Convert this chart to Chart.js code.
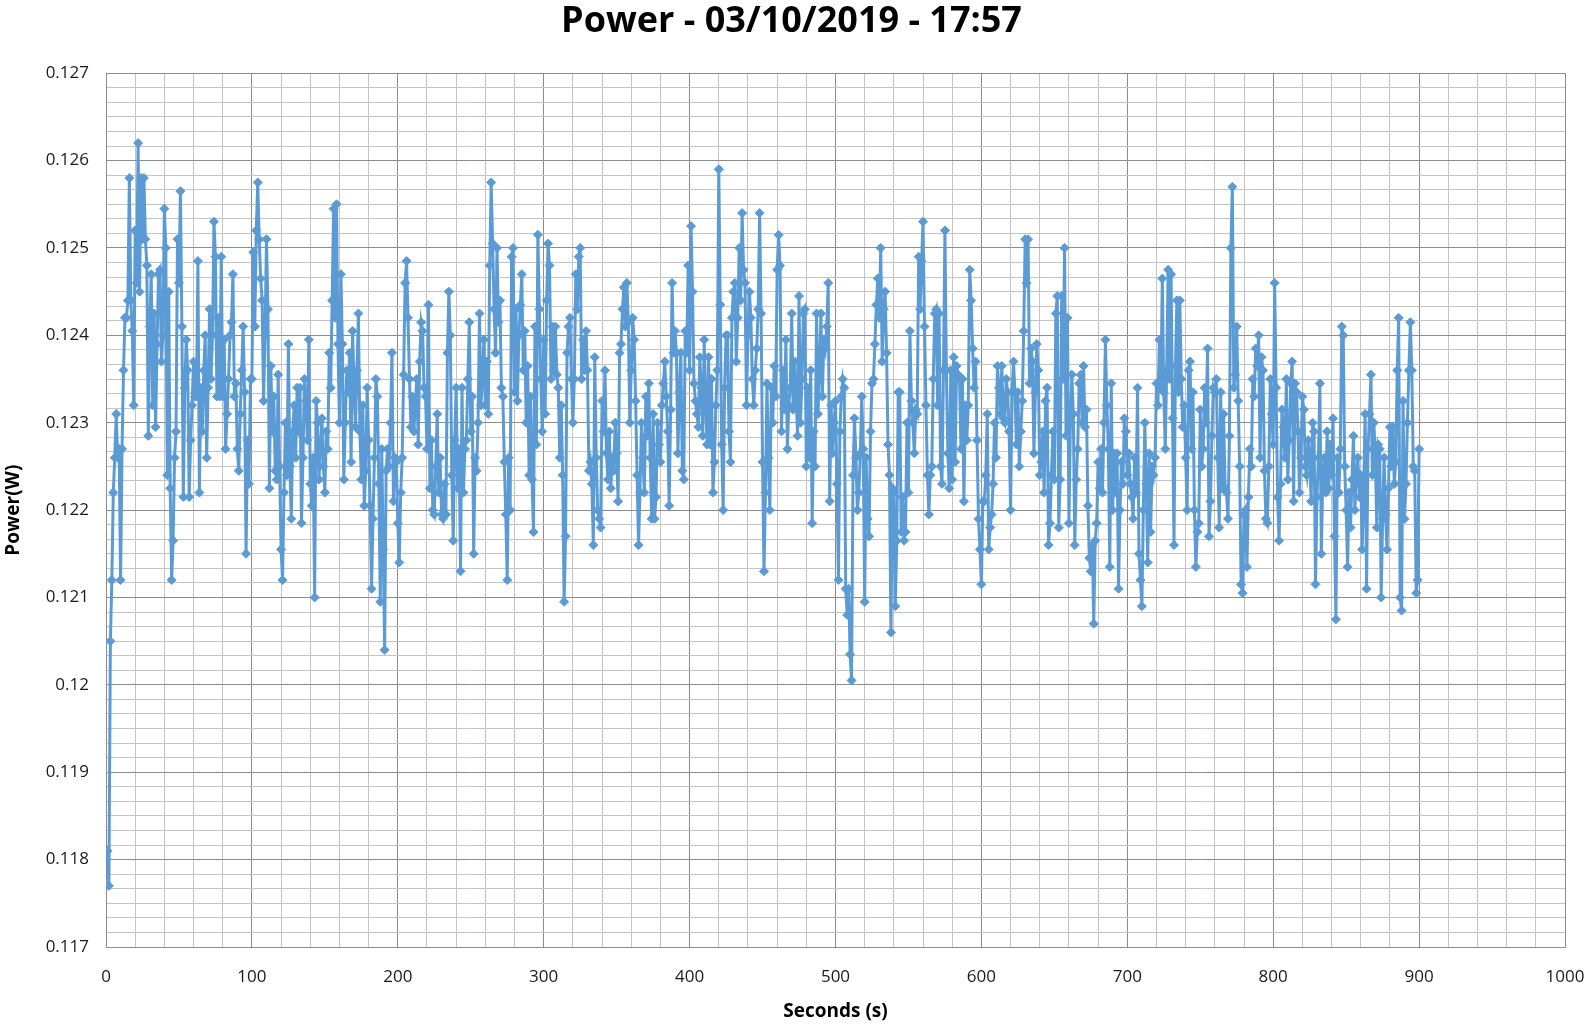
<!DOCTYPE html>
<html>
<head>
<meta charset="utf-8">
<title>Power - 03/10/2019 - 17:57</title>
<script src="https://cdn.jsdelivr.net/npm/chart.js@4.4.1/dist/chart.umd.min.js"></script>
<style>
  html, body { margin: 0; padding: 0; background: #ffffff; }
  #wrap { width: 1593px; height: 1026px; }
</style>
</head>
<body>
<div id="wrap"><canvas id="graficoPotencia"></canvas></div>
<script>
/* DADOS - potência, uma amostra por segundo (em mW) */
const chartTitle = 'Power - 03/10/2019 - 17:57';
const xTitle = 'Seconds (s)';
const yTitle = 'Power(W)';

const powerMilliwatts = [
  118.1, 117.7, 120.5, 121.2, 122.2, 122.6, 123.1, 122.6, 122.7, 121.2,
  122.7, 123.6, 124.2, 124.2, 124.4, 125.8, 124.4, 124.05, 123.2, 125.2,
  124.6, 126.2, 124.5, 125.8, 125.1, 125.8, 125.1, 124.8, 122.85, 124.1,
  124.7, 123.2, 124.25, 122.95, 123.9, 124.7, 124.75, 123.7, 124.0, 125.45,
  125.0, 122.4, 124.5, 122.25, 121.2, 121.65, 122.6, 122.9, 125.1, 124.6,
  125.65, 124.1, 122.15, 123.4, 123.95, 123.6, 122.15, 122.8, 123.2, 123.7,
  123.3, 123.3, 124.85, 122.2, 123.4, 122.9, 123.6, 124.0, 122.6, 123.4,
  124.3, 123.5, 124.0, 125.3, 124.9, 123.3, 124.2, 123.3, 124.9, 123.3,
  123.95, 122.7, 123.1, 123.5, 124.0, 124.15, 124.7, 123.3, 123.45, 122.7,
  122.45, 123.1, 123.6, 124.1, 123.35, 121.5, 122.8, 122.3, 123.5, 123.5,
  124.95, 124.1, 125.2, 125.75, 125.1, 124.65, 124.4, 123.25, 124.0, 125.1,
  124.3, 122.25, 123.65, 122.9, 123.3, 122.45, 122.35, 123.55, 122.5, 121.55,
  121.2, 122.2, 123.0, 122.4, 123.9, 122.5, 121.9, 122.9, 123.2, 122.6,
  123.4, 122.9, 123.4, 121.85, 122.6, 123.5, 123.25, 122.8, 123.95, 122.3,
  122.05, 122.6, 121.0, 123.25, 123.0, 122.35, 122.7, 123.05, 122.5, 122.2,
  122.9, 122.7, 123.8, 123.4, 124.4, 125.45, 124.2, 125.5, 123.9, 123.0,
  124.7, 123.9, 122.35, 123.0, 123.6, 123.35, 123.8, 122.55, 124.05, 123.45,
  122.95, 123.6, 124.25, 122.9, 122.35, 123.2, 122.05, 122.45, 123.4, 122.8,
  122.05, 121.1, 121.9, 122.6, 123.5, 123.3, 122.3, 120.95, 122.7, 121.55,
  120.4, 122.45, 122.7, 122.5, 123.0, 123.8, 122.1, 122.6, 122.55, 121.85,
  121.4, 122.2, 122.6, 123.55, 124.6, 124.85, 124.2, 123.5, 122.95, 123.3,
  122.9, 123.2, 123.5, 122.75, 123.7, 124.15, 124.05, 123.4, 123.3, 122.7,
  124.35, 122.25, 122.8, 122.0, 121.95, 122.5, 123.1, 122.2, 122.6, 121.95,
  121.9, 122.3, 121.95, 123.8, 124.5, 124.0, 122.4, 121.65, 122.8, 123.4,
  122.25, 122.7, 121.3, 123.4, 122.2, 122.7, 122.8, 123.5, 124.15, 122.9,
  123.3, 121.5, 122.6, 122.45, 123.0, 124.25, 123.2, 123.5, 123.95, 123.2,
  123.7, 123.1, 124.8, 125.75, 125.05, 124.3, 123.8, 125.0, 124.15, 124.4,
  123.4, 123.3, 122.55, 121.95, 121.2, 122.6, 122.0, 124.9, 125.0, 123.35,
  124.3, 123.25, 124.0, 124.35, 124.7, 123.6, 124.05, 123.0, 123.65, 122.4,
  123.3, 122.35, 121.75, 124.1, 122.75, 125.15, 124.3, 123.5, 122.9, 123.95,
  123.1, 124.4, 125.05, 124.8, 123.5, 124.1, 123.6, 124.1, 123.55, 123.4,
  122.6, 123.2, 122.4, 120.95, 121.7, 123.8, 124.1, 124.2, 123.5, 123.0,
  123.5, 124.7, 124.3, 124.9, 125.0, 123.5, 123.95, 123.6, 124.05, 123.6,
  122.45, 122.55, 122.3, 121.6, 123.75, 122.6, 122.0, 121.9, 121.8, 123.25,
  122.9, 123.6, 122.65, 122.35, 122.9, 122.25, 122.6, 122.45, 123.0, 122.65,
  122.1, 123.8, 123.9, 124.3, 124.55, 124.1, 124.6, 124.15, 123.0, 123.6,
  124.2, 123.95, 123.25, 122.4, 121.6, 122.2, 123.0, 122.6, 122.2, 123.3,
  122.85, 123.45, 122.6, 121.9, 123.1, 121.9, 122.15, 123.0, 122.75, 122.55,
  123.2, 123.45, 123.7, 123.3, 122.9, 122.05, 123.15, 124.6, 123.8, 124.05,
  123.8, 122.65, 123.35, 123.8, 122.45, 122.35, 124.05, 123.8, 124.8, 123.6,
  125.25, 124.5, 123.45, 123.25, 123.1, 122.95, 123.75, 123.4, 122.85, 123.95,
  123.2, 122.75, 123.75, 122.75, 123.5, 122.2, 122.55, 123.2, 123.6, 125.9,
  124.35, 122.75, 122.0, 123.4, 124.0, 124.0, 122.9, 122.55, 124.2, 124.5,
  124.6, 123.7, 124.2, 125.0, 124.4, 125.4, 124.75, 124.6, 123.2, 124.0,
  124.5, 124.2, 123.5, 123.2, 123.6, 123.85, 124.3, 125.4, 124.25, 122.55,
  121.3, 122.2, 123.45, 122.6, 122.0, 123.4, 123.0, 123.65, 123.3, 124.75,
  125.15, 124.8, 122.9, 123.6, 123.15, 123.95, 122.7, 123.2, 123.4, 124.25,
  123.15, 123.7, 123.3, 122.85, 124.45, 123.0, 123.5, 124.25, 124.3, 122.5,
  123.4, 122.6, 123.6, 121.85, 122.9, 122.5, 124.25, 123.1, 123.6, 124.25,
  123.3, 123.95, 123.85, 124.1, 124.6, 122.1, 123.2, 122.65, 123.0, 123.25,
  122.3, 121.2, 122.9, 123.3, 123.5, 123.4, 121.1, 120.8, 121.1, 120.35,
  120.05, 122.4, 123.05, 122.6, 122.0, 122.2, 122.65, 123.3, 122.7, 120.95,
  122.6, 121.9, 121.7, 122.9, 123.45, 123.5, 123.9, 124.35, 124.65, 124.2,
  125.0, 123.7, 124.3, 124.5, 123.8, 122.75, 122.4, 120.6, 122.25, 122.2,
  120.9, 121.65, 123.35, 123.35, 121.75, 122.15, 121.65, 121.75, 123.0, 122.2,
  124.05, 123.25, 123.0, 122.65, 123.15, 123.1, 124.9, 124.3, 124.85, 125.3,
  124.1, 123.2, 122.4, 121.95, 122.4, 122.5, 123.5, 124.25, 124.3, 123.2,
  124.25, 122.5, 122.3, 123.6, 125.2, 123.6, 122.65, 122.25, 123.6, 122.35,
  123.75, 122.55, 123.65, 123.55, 123.5, 122.7, 123.5, 122.1, 123.2, 122.8,
  123.2, 124.75, 124.4, 123.85, 123.4, 123.7, 122.8, 121.9, 121.55, 121.15,
  122.1, 122.1, 122.4, 123.1, 121.55, 121.8, 121.95, 122.3, 123.0, 122.6,
  123.65, 123.4, 123.1, 123.65, 123.05, 123.0, 123.5, 123.35, 122.9, 122.0,
  123.35, 123.7, 123.35, 122.75, 123.35, 122.5, 122.9, 123.25, 124.05, 125.1,
  124.6, 125.1, 123.45, 123.85, 123.7, 122.65, 123.35, 123.9, 123.6, 122.4,
  122.55, 122.9, 122.2, 123.25, 123.4, 121.6, 121.85, 122.4, 122.9, 122.35,
  124.25, 124.45, 121.8, 122.35, 124.45, 123.5, 125.0, 122.85, 124.2, 121.85,
  123.0, 123.55, 123.1, 121.6, 122.35, 122.7, 123.45, 123.55, 123.0, 123.65,
  122.95, 123.15, 122.05, 121.45, 121.3, 121.6, 120.7, 121.65, 121.85, 122.55,
  122.25, 122.7, 122.2, 123.0, 123.95, 123.2, 122.7, 121.35, 123.45, 122.0,
  122.65, 122.2, 122.65, 121.1, 122.0, 122.55, 122.3, 123.05, 122.9, 122.4,
  122.65, 122.3, 122.15, 121.9, 122.6, 122.2, 123.4, 121.5, 121.2, 120.9,
  122.0, 123.0, 122.3, 121.4, 122.65, 121.75, 122.5, 122.4, 122.6, 123.45,
  123.2, 123.95, 123.4, 124.65, 123.35, 122.7, 123.6, 124.75, 123.5, 124.7,
  123.05, 121.6, 123.65, 124.4, 123.35, 124.4, 123.5, 122.95, 123.2, 122.6,
  122.0, 123.6, 123.7, 122.7, 123.35, 122.0, 121.35, 121.75, 121.85, 123.15,
  122.5, 122.7, 123.4, 123.0, 123.85, 121.7, 122.1, 122.85, 123.4, 123.35,
  123.5, 122.6, 121.8, 123.35, 122.25, 123.1, 122.25, 122.2, 121.9, 122.85,
  125.0, 125.7, 123.4, 123.55, 124.1, 123.25, 122.5, 121.15, 121.05, 121.95,
  122.0, 121.35, 122.15, 122.7, 122.5, 123.5, 123.3, 123.85, 123.65, 124.0,
  122.6, 123.75, 123.6, 122.45, 121.9, 121.85, 122.5, 123.5, 123.1, 122.75,
  124.6, 123.4, 122.15, 121.65, 122.3, 123.15, 122.95, 122.6, 123.5, 122.35,
  122.8, 123.45, 123.7, 122.1, 123.45, 123.35, 122.9, 122.2, 122.6, 123.3,
  123.15, 122.5, 122.4, 122.8, 122.65, 122.1, 123.0, 122.9, 121.15, 122.15,
  122.6, 123.45, 121.5, 122.4, 122.6, 122.2, 122.9, 122.25, 122.75, 122.4,
  123.05, 121.7, 120.75, 122.6, 122.2, 122.7, 124.1, 124.0, 122.5, 122.0,
  121.35, 122.2, 121.8, 122.35, 122.85, 122.0, 122.45, 122.6, 122.15, 122.4,
  121.55, 122.2, 123.1, 121.1, 122.7, 123.1, 123.55, 122.4, 123.0, 122.6,
  121.8, 122.75, 122.7, 121.0, 121.9, 122.6, 121.95, 121.55, 122.25, 122.95,
  122.5, 122.95, 122.3, 122.55, 123.6, 124.2, 121.0, 120.85, 123.25, 121.9,
  122.3, 123.0, 123.6, 124.15, 123.6, 122.5, 122.45, 121.05, 121.2, 122.7
];

// segundos: 1, 2, 3 ... (uma leitura por segundo)
const seconds = powerMilliwatts.map((v, i) => i + 1);
const power = powerMilliwatts.map(v => v / 1000);

// eixos
const xMin = 0, xMax = 1000, xMajor = 100, xMinor = 20;
const yMin = 0.117, yMax = 0.127, yMajor = 0.001, yMinorPerMajor = 6;

const corLinha = '#5B9BD5';
const corGradeMaior = '#8c8c8c';
const corGradeMenor = '#c4c4c4';

/* DASHBOARD - LINHA - Potência */
const graficoPotencia = document.getElementById('graficoPotencia');

new Chart(graficoPotencia, {
    type: 'line',
    data: {
        datasets: [{
            label: yTitle,
            data: seconds.map((s, i) => ({ x: s, y: power[i] })),
            borderColor: corLinha,
            backgroundColor: corLinha,
            pointBackgroundColor: corLinha,
            pointBorderColor: corLinha,
            borderWidth: 3,
            pointStyle: 'rectRot',
            pointRadius: 4.5,
            pointBorderWidth: 1,
            tension: 0
        }]
    },
    options: {
        responsive: true,
        maintainAspectRatio: false,
        animation: false,
        layout: {
            padding: { top: 0, right: 28, bottom: 0, left: 18 }
        },
        plugins: {
            legend: { display: false },
            tooltip: { enabled: false },
            title: {
                display: true,
                text: chartTitle,
                color: '#000000',
                font: { family: 'Open Sans', size: 36, weight: 'bold' },
                padding: { top: 0, bottom: 30 }
            }
        },
        scales: {
            x: {
                type: 'linear',
                min: xMin,
                max: xMax,
                afterBuildTicks: axis => {
                    const t = [];
                    for (let v = xMin; v <= xMax; v += xMinor) t.push({ value: v });
                    axis.ticks = t;
                },
                afterFit: axis => {
                    axis.height = 79;
                    axis.paddingLeft = 0;
                    axis.paddingRight = 0;
                },
                ticks: {
                    autoSkip: false,
                    maxRotation: 0,
                    padding: 20,
                    color: '#1a1a1a',
                    font: { family: 'Open Sans', size: 17 },
                    callback: v => (v % xMajor === 0 ? String(v) : '')
                },
                grid: {
                    drawTicks: false,
                    color: ctx => (ctx.tick && ctx.tick.value % xMajor === 0 ? corGradeMaior : corGradeMenor),
                    lineWidth: 1
                },
                border: { color: corGradeMaior },
                title: {
                    display: true,
                    text: xTitle,
                    color: '#000000',
                    font: { family: 'Open Sans', size: 19, weight: 'bold' },
                    padding: { top: 0, bottom: 3 }
                }
            },
            y: {
                min: yMin,
                max: yMax,
                afterBuildTicks: axis => {
                    const t = [];
                    const n = Math.round((yMax - yMin) / yMajor) * yMinorPerMajor;
                    for (let i = 0; i <= n; i++) t.push({ value: yMin + i * yMajor / yMinorPerMajor });
                    axis.ticks = t;
                },
                afterFit: axis => { axis.width = 88; },
                ticks: {
                    autoSkip: false,
                    padding: 17,
                    color: '#1a1a1a',
                    font: { family: 'Open Sans', size: 17 },
                    callback: (v, i) => (i % yMinorPerMajor === 0 ? String(Number(v.toFixed(3))) : '')
                },
                grid: {
                    drawTicks: false,
                    color: ctx => (ctx.index % yMinorPerMajor === 0 ? corGradeMaior : corGradeMenor),
                    lineWidth: 1
                },
                border: { color: corGradeMaior },
                title: {
                    display: true,
                    text: yTitle,
                    color: '#000000',
                    font: { family: 'Open Sans', size: 19, weight: 'bold' },
                    padding: { top: -16, bottom: 0 }
                }
            }
        }
    }
});
</script>
</body>
</html>
